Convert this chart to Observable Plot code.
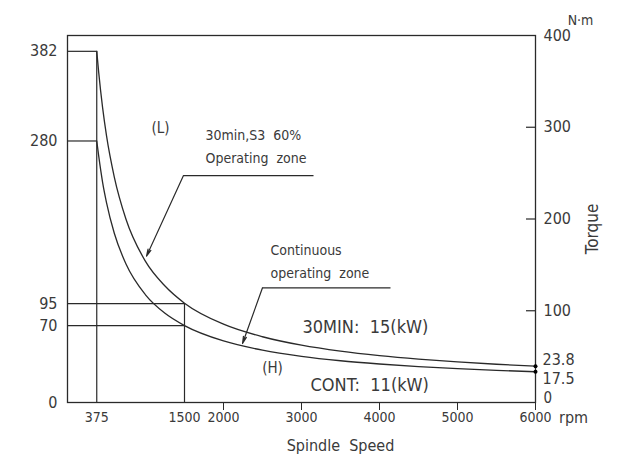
<!DOCTYPE html>
<html>
<head>
<meta charset="utf-8">
<script src="https://cdn.jsdelivr.net/npm/d3@7"></script>
<script src="https://cdn.jsdelivr.net/npm/@observablehq/plot@0.6"></script>
<style>
  html, body { margin: 0; padding: 0; background: #fff; }
  #chart svg { display: block; }
</style>
</head>
<body>
<div id="chart"></div>
<script>
// ---- data ----
const speed      = [375, 400, 450, 500, 600, 750, 1000, 1250, 1500, 2000, 2500, 3000, 3500, 4000, 4500, 5000, 5500, 6000];
const torque30   = [382, 358, 318, 286, 239, 191, 143, 115, 95.5, 71.6, 57.3, 47.7, 40.9, 35.8, 31.8, 28.6, 26.0, 23.8];
const torqueCont = [280, 263, 233, 210, 175, 140, 105, 84, 70, 52.5, 42, 35, 30, 26.3, 23.3, 21, 19.1, 17.5];

const leftTicks   = [382, 280, 95, 70];
const rightTicks  = [100, 200, 300, 400];
const rightZero   = 0;
const endTicks    = [23.8, 17.5];
const xTicks      = [2000, 3000, 4000, 5000, 6000];
const xMarks      = [375, 1500];
const xDomain     = [0, 6000];
const yDomain     = [-17.5, 400];   // torque (N·m) at bottom / top edge of the frame

const corner30   = {speed: 375, torque: 382};
const cornerCont = {speed: 375, torque: 280};
const base30     = {speed: 1500, torque: 95};
const baseCont   = {speed: 1500, torque: 70};

// annotations (speed, torque)
const notesLeft = [
  {text: "30min,S3  60%",    x: 1769, y: 286, size: 14},
  {text: "Operating  zone",  x: 1769, y: 260, size: 14},
  {text: "Continuous",       x: 2603, y: 155, size: 14},
  {text: "operating  zone",  x: 2603, y: 129, size: 14},
  {text: "30MIN:  15(kW)",   x: 3013, y: 68,  size: 18},
  {text: "CONT:  11(kW)",    x: 3115, y: 2,   size: 18}
];
const notesMid = [
  {text: "(L)", x: 1192, y: 295, size: 15},
  {text: "(H)", x: 2628, y: 21,  size: 15}
];
const leaders = [
  {x1: 1487, y1: 240.7, x2: 3154, y2: 240.7},
  {x1: 2500, y1: 113,   x2: 4141, y2: 113}
];
const arrows = [
  {x1: 1487, y1: 240.7, x2: 1013, y2: 149},
  {x1: 2500, y1: 113,   x2: 2244, y2: 49.6}
];

const series30   = speed.map((s, i) => ({speed: s, torque: torque30[i]}));
const seriesCont = speed.map((s, i) => ({speed: s, torque: torqueCont[i]}));

// right-hand axis is drawn on its own 0–400 graduation spanning the frame
const rightPos = d3.scaleLinear([0, 400], yDomain);
// bottom "0" on the left sits on the frame edge too
const leftPositions = [rightPos(0), ...leftTicks];
const leftText = ["0", ...leftTicks.map(String)];

const FONT = "'DejaVu Sans Condensed', 'DejaVu Sans', sans-serif";
const INK = "#2a2a2a";
const TXT = "#3a3a3a";

const chart = Plot.plot({
  width: 626,
  height: 468,
  marginLeft: 67,
  marginRight: 91,
  marginTop: 35,
  marginBottom: 66,
  style: {fontFamily: FONT, color: TXT, background: "#fff"},
  x: {domain: xDomain},
  y: {domain: yDomain},
  marks: [
    Plot.frame({stroke: INK, strokeWidth: 1.3}),
    // bottom axis
    Plot.axisX({ticks: xTicks, tickSize: 8, tickPadding: 2, fontSize: 14, label: null, tickFormat: d => String(d), stroke: INK}),
    Plot.axisX({ticks: xMarks, tickSize: 0, tickPadding: 10, fontSize: 14, label: null, tickFormat: d => String(d)}),
    // left axis
    Plot.axisY({ticks: leftPositions, tickSize: 0, tickPadding: 10, fontSize: 16, label: null,
      tickFormat: (d, i) => leftText[i]}),
    // right axis
    Plot.axisY({anchor: "right", ticks: rightTicks.map(rightPos), tickSize: 0, tickPadding: 8, fontSize: 16, label: null,
      tickFormat: (d, i) => String(rightTicks[i])}),
    Plot.text([rightZero], {x: () => 6000, y: d => rightPos(d), text: d => String(d), dx: 8, dy: -4, textAnchor: "start", fontSize: 15, fill: TXT}),
    Plot.tickY(rightTicks.slice(0, 3).map(rightPos), {y: d => d, insetLeft: 459, stroke: INK, strokeWidth: 1.2}),
    Plot.text([endTicks[0]], {x: () => 6000, y: d => d, text: d => String(d), dx: 7, dy: -6, textAnchor: "start", fontSize: 16, fill: TXT}),
    Plot.text([endTicks[1]], {x: () => 6000, y: d => d, text: d => String(d), dx: 7, dy: 7, textAnchor: "start", fontSize: 16, fill: TXT}),
    // reference lines
    Plot.ruleY([corner30, cornerCont], {y: "torque", x1: xDomain[0], x2: "speed", stroke: INK, strokeWidth: 1.2}),
    Plot.ruleY([base30, baseCont], {y: "torque", x1: xDomain[0], x2: "speed", stroke: INK, strokeWidth: 1.2}),
    Plot.ruleX([corner30, base30], {x: "speed", y1: yDomain[0], y2: "torque", stroke: INK, strokeWidth: 1.2}),
    // curves
    Plot.line(series30, {x: "speed", y: "torque", curve: "monotone-x", stroke: INK, strokeWidth: 1.3}),
    Plot.line(seriesCont, {x: "speed", y: "torque", curve: "monotone-x", stroke: INK, strokeWidth: 1.3}),
    Plot.dot([series30[series30.length - 1], seriesCont[seriesCont.length - 1]], {x: "speed", y: "torque", r: 2, fill: "#000", stroke: null}),
    // leaders
    Plot.link(leaders, {x1: "x1", y1: "y1", x2: "x2", y2: "y2", stroke: INK, strokeWidth: 1.2}),
    Plot.arrow(arrows, {x1: "x1", y1: "y1", x2: "x2", y2: "y2", stroke: INK, strokeWidth: 1.2, headAngle: 25, headLength: 9}),
    // annotations
    Plot.text(notesLeft, {x: "x", y: "y", text: "text", fontSize: "size", textAnchor: "start", fill: TXT, lineAnchor: "middle"}),
    Plot.text(notesMid, {x: "x", y: "y", text: "text", fontSize: "size", textAnchor: "middle", fill: TXT, lineAnchor: "middle"}),
    // axis titles
    Plot.text(["Spindle  Speed"], {x: () => 3500, frameAnchor: "bottom", dy: 48, fontSize: 16, fill: TXT}),
    Plot.text(["rpm"], {x: () => 6000, frameAnchor: "bottom", dx: 38, dy: 20, fontSize: 16, fill: TXT}),
    Plot.text(["N·m"], {x: () => 6000, frameAnchor: "top", dx: 45, dy: -20, fontSize: 14, fill: TXT}),
    Plot.text(["Torque"], {x: () => 6000, y: () => 180, dx: 57, rotate: -90, fontSize: 17, fill: TXT})
  ]
});
document.getElementById("chart").appendChild(chart);
</script>
</body>
</html>
